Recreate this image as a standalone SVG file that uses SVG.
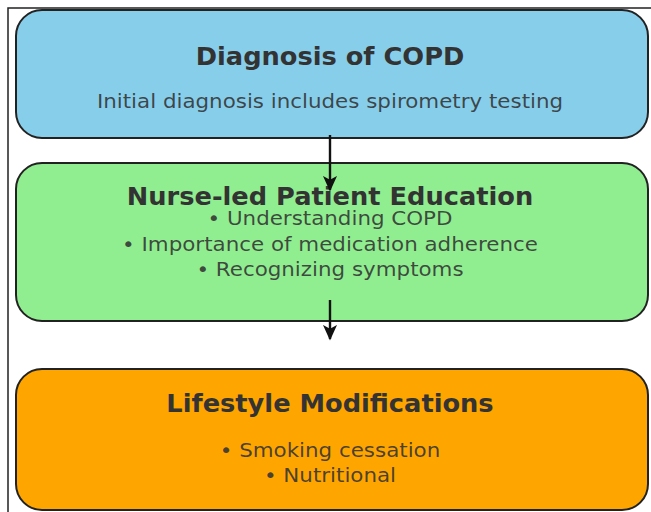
<svg xmlns="http://www.w3.org/2000/svg" width="651" height="512" viewBox="0 0 651 512">
  <defs>
    <marker id="arrowhead" viewBox="0 0 10 10" refX="9" refY="5" markerWidth="6.5" markerHeight="6.5" orient="auto" markerUnits="strokeWidth">
      <path d="M0,0.5 L10,5 L0,9.5 L2.5,5 z" fill="#111"/>
    </marker>
  </defs>
  <style>
    .box { stroke: #222; stroke-width: 2; }
    .title { font-family: "DejaVu Sans", "Liberation Sans", sans-serif; font-weight: bold; font-size: 24px; fill: #333; text-anchor: middle; }
    .body { font-family: "DejaVu Sans", "Liberation Sans", sans-serif; font-size: 20px; fill: #333; fill-opacity: 0.88; text-anchor: middle; }
    .link { stroke: #111; stroke-width: 2.4; fill: none; marker-end: url(#arrowhead); }
    .frame { stroke: #222; stroke-width: 1.5; fill: none; }
  </style>

  <rect width="651" height="512" fill="#fff"/>
  <path class="frame" d="M8,512 V8 H651"/>

  <!-- text is widened slightly about the centre line x=330 -->
  <g id="diagnosis">
    <rect class="box" x="16" y="10" width="632" height="128" rx="26" fill="#87CEEB"/>
    <g transform="matrix(1.07 0 0 1 -23.1 0)">
      <text class="title" x="330" y="65">Diagnosis of COPD</text>
      <text class="body" x="330" y="108">Initial diagnosis includes spirometry testing</text>
    </g>
  </g>

  <g id="education">
    <rect class="box" x="16" y="163" width="632" height="158" rx="26" fill="#90EE90"/>
    <g transform="matrix(1.07 0 0 1 -23.1 0)">
      <text class="title" x="330" y="205">Nurse-led Patient Education</text>
      <text class="body" x="330" y="225.5">• Understanding COPD</text>
      <text class="body" x="330" y="251">• Importance of medication adherence</text>
      <text class="body" x="330" y="276.5">• Recognizing symptoms</text>
    </g>
  </g>

  <g id="lifestyle">
    <rect class="box" x="16" y="369" width="632" height="141" rx="26" fill="#FFA500"/>
    <g transform="matrix(1.07 0 0 1 -23.1 0)">
      <text class="title" x="330" y="412">Lifestyle Modifications</text>
      <text class="body" x="330" y="457">• Smoking cessation</text>
      <text class="body" x="330" y="482">• Nutritional</text>
    </g>
  </g>

  <g id="connectors">
    <line class="link" x1="330" y1="135" x2="330" y2="190"/>
    <line class="link" x1="330" y1="300" x2="330" y2="339"/>
  </g>
</svg>
